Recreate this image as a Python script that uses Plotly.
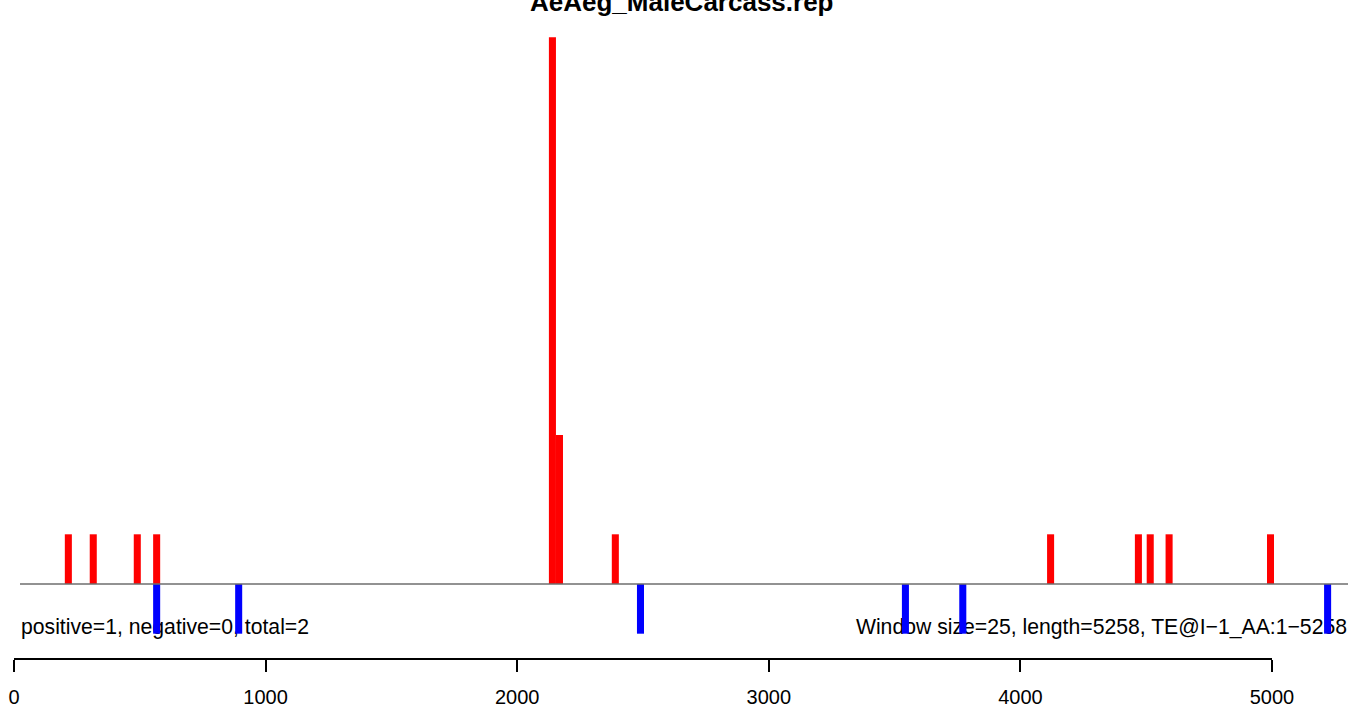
import plotly.graph_objects as go

# ---- data ----
title = "AeAeg_MaleCarcass.rep"
pos_x = [216, 315, 490, 567, 2140, 2168, 2390, 4120, 4469, 4516, 4591, 4994]
pos_y = [1, 1, 1, 1, 11, 3, 1, 1, 1, 1, 1, 1]
neg_x = [567, 893, 2490, 3543, 3771, 5221]
neg_y = [-1, -1, -1, -1, -1, -1]
tick_vals = [0, 1000, 2000, 3000, 4000, 5000]
tick_text = ["0", "1000", "2000", "3000", "4000", "5000"]
left_note = "positive=1, negative=0, total=2"
right_note = "Window size=25, length=5258, TE@I\u22121_AA:1\u22125258"

W, H = 1353, 709
PX_PER_X = 0.2516
X0_PX = 14
BASE_PX = 584
PX_PER_Y = 49.7
xr = [(0 - X0_PX) / PX_PER_X, (W - X0_PX) / PX_PER_X]
yr = [(BASE_PX - H) / PX_PER_Y, BASE_PX / PX_PER_Y]

FONT = "Liberation Sans, Arial, sans-serif"
BAR_W = 28

fig = go.Figure()
# text notes on base subplot (under bars)
fig.add_trace(go.Scatter(x=[(21 - X0_PX) / PX_PER_X], y=[(BASE_PX - 629) / PX_PER_Y],
                         mode="text", text=[left_note], textposition="middle right",
                         textfont=dict(family=FONT, size=21.2, color="black"),
                         hoverinfo="skip", showlegend=False, xaxis="x", yaxis="y"))
fig.add_trace(go.Scatter(x=[(1347 - X0_PX) / PX_PER_X], y=[(BASE_PX - 629) / PX_PER_Y],
                         mode="text", text=[right_note], textposition="middle left",
                         textfont=dict(family=FONT, size=21.2, color="black"),
                         hoverinfo="skip", showlegend=False, xaxis="x", yaxis="y"))
# bars on overlay subplot
fig.add_trace(go.Bar(x=pos_x, y=pos_y, width=[BAR_W] * len(pos_x), marker=dict(color="#FF0000", line=dict(width=0)),
                     showlegend=False, xaxis="x2", yaxis="y2"))
fig.add_trace(go.Bar(x=neg_x, y=neg_y, width=[BAR_W] * len(neg_x), marker=dict(color="#0000FF", line=dict(width=0)),
                     showlegend=False, xaxis="x2", yaxis="y2"))
# axis subplot
fig.add_trace(go.Scatter(x=[tick_vals[0], tick_vals[-1]], y=[0, 0], mode="markers", marker=dict(opacity=0),
                         hoverinfo="skip", showlegend=False, xaxis="x3", yaxis="y3"))

axis_line_px = 658
fig.update_layout(
    template="none", showlegend=False,
    width=W, height=H, autosize=False, margin=dict(l=0, r=0, t=0, b=0, pad=0, autoexpand=False),
    plot_bgcolor="white", paper_bgcolor="white", barmode="overlay",
    xaxis=dict(range=xr, visible=False, domain=[0, 1], automargin=False),
    yaxis=dict(range=yr, visible=False, domain=[0, 1], automargin=False),
    xaxis2=dict(range=xr, visible=False, overlaying="x", automargin=False),
    yaxis2=dict(range=yr, visible=False, overlaying="y", automargin=False),
    xaxis3=dict(domain=[X0_PX / W, (X0_PX + 5000 * PX_PER_X) / W], range=[0, 5000],
                anchor="y3", showline=True, linecolor="black", linewidth=1.5, automargin=False,
                ticks="outside", ticklen=12, tickwidth=1.5, tickcolor="black",
                tickvals=tick_vals, ticktext=tick_text, showgrid=False, zeroline=False,
                ticklabelstandoff=8,
                tickfont=dict(family=FONT, size=20, color="black")),
    yaxis3=dict(domain=[1 - axis_line_px / H, 1 - axis_line_px / H + 0.02], visible=False, anchor="x3",
                range=[0, 1], automargin=False),
    shapes=[dict(type="line", xref="x", yref="y", x0=(20 - X0_PX) / PX_PER_X, x1=(1348 - X0_PX) / PX_PER_X,
                 y0=0, y1=0, line=dict(color="#6e6e6e", width=1.5), layer="above")],
    annotations=[dict(text="<b>" + title + "</b>", xref="paper", yref="paper", x=681.5 / W, y=1 - 19 / H,
                      xanchor="center", yanchor="bottom", showarrow=False,
                      font=dict(family=FONT, size=26, color="black"))],
)
post = ("document.documentElement.style.overflow='hidden';"
        "document.body.style.margin='0';document.body.style.overflow='hidden';")
fig.write_html("out.html", config={"displayModeBar": False, "responsive": False}, post_script=post)
